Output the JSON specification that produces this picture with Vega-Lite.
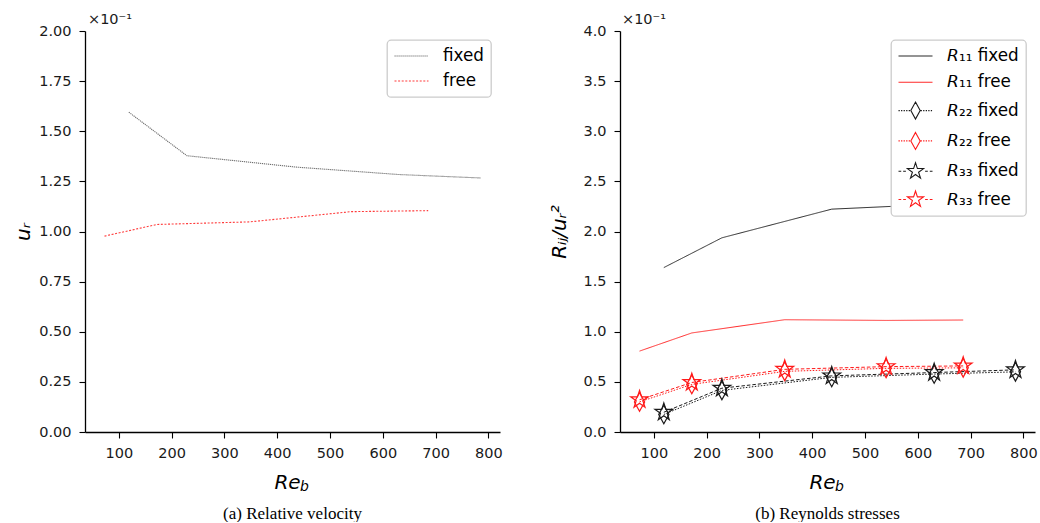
{
  "$schema": "https://vega.github.io/schema/vega-lite/v6.json",
  "background": "white",
  "padding": {"left": 13, "top": 12, "right": 0, "bottom": 0},
  "spacing": 46,
  "resolve": {
    "scale": {"color": "independent", "shape": "independent", "strokeDash": "independent"},
    "legend": {"color": "independent", "shape": "independent", "strokeDash": "independent"}
  },
  "datasets": {
    "ur": [
      {"series": "fixed", "Re": 119, "u": 1.595},
      {"series": "fixed", "Re": 229, "u": 1.378},
      {"series": "fixed", "Re": 437, "u": 1.321},
      {"series": "fixed", "Re": 631, "u": 1.284},
      {"series": "fixed", "Re": 785, "u": 1.267},
      {"series": "free", "Re": 73, "u": 0.977},
      {"series": "free", "Re": 172, "u": 1.035},
      {"series": "free", "Re": 348, "u": 1.048},
      {"series": "free", "Re": 540, "u": 1.099},
      {"series": "free", "Re": 686, "u": 1.104}
    ],
    "rs": [
      {"series": "𝘙₁₁ fixed", "comp": "R11", "Re": 119, "v": 1.64},
      {"series": "𝘙₁₁ fixed", "comp": "R11", "Re": 229, "v": 1.937},
      {"series": "𝘙₁₁ fixed", "comp": "R11", "Re": 437, "v": 2.223},
      {"series": "𝘙₁₁ fixed", "comp": "R11", "Re": 631, "v": 2.27},
      {"series": "𝘙₁₁ fixed", "comp": "R11", "Re": 785, "v": 2.292},
      {"series": "𝘙₁₁ free", "comp": "R11", "Re": 73, "v": 0.807},
      {"series": "𝘙₁₁ free", "comp": "R11", "Re": 172, "v": 0.988},
      {"series": "𝘙₁₁ free", "comp": "R11", "Re": 348, "v": 1.12},
      {"series": "𝘙₁₁ free", "comp": "R11", "Re": 540, "v": 1.113},
      {"series": "𝘙₁₁ free", "comp": "R11", "Re": 686, "v": 1.117},
      {"series": "𝘙₂₂ fixed", "comp": "R22", "Re": 119, "v": 0.175},
      {"series": "𝘙₂₂ fixed", "comp": "R22", "Re": 229, "v": 0.415},
      {"series": "𝘙₂₂ fixed", "comp": "R22", "Re": 437, "v": 0.545},
      {"series": "𝘙₂₂ fixed", "comp": "R22", "Re": 631, "v": 0.578},
      {"series": "𝘙₂₂ fixed", "comp": "R22", "Re": 785, "v": 0.6},
      {"series": "𝘙₂₂ free", "comp": "R22", "Re": 73, "v": 0.3},
      {"series": "𝘙₂₂ free", "comp": "R22", "Re": 172, "v": 0.475},
      {"series": "𝘙₂₂ free", "comp": "R22", "Re": 348, "v": 0.605},
      {"series": "𝘙₂₂ free", "comp": "R22", "Re": 540, "v": 0.635},
      {"series": "𝘙₂₂ free", "comp": "R22", "Re": 686, "v": 0.64},
      {"series": "𝘙₃₃ fixed", "comp": "R33", "Re": 119, "v": 0.197},
      {"series": "𝘙₃₃ fixed", "comp": "R33", "Re": 229, "v": 0.437},
      {"series": "𝘙₃₃ fixed", "comp": "R33", "Re": 437, "v": 0.56},
      {"series": "𝘙₃₃ fixed", "comp": "R33", "Re": 631, "v": 0.593},
      {"series": "𝘙₃₃ fixed", "comp": "R33", "Re": 785, "v": 0.62},
      {"series": "𝘙₃₃ free", "comp": "R33", "Re": 73, "v": 0.322},
      {"series": "𝘙₃₃ free", "comp": "R33", "Re": 172, "v": 0.494},
      {"series": "𝘙₃₃ free", "comp": "R33", "Re": 348, "v": 0.625},
      {"series": "𝘙₃₃ free", "comp": "R33", "Re": 540, "v": 0.652},
      {"series": "𝘙₃₃ free", "comp": "R33", "Re": 686, "v": 0.659}
    ]
  },
  "config": {
    "view": {"stroke": null},
    "font": "DejaVu Sans",
    "axis": {"grid": false, "domainColor": "black", "domainWidth": 1.3, "tickColor": "black", "tickWidth": 1.1, "tickSize": 6, "labelFont": "DejaVu Sans", "labelFontSize": 14.5, "labelColor": "#1a1a1a", "labelPadding": 8, "titleFont": "DejaVu Sans", "titleFontSize": 20, "titleFontStyle": "italic", "titleFontWeight": "normal", "titleColor": "black"},
    "axisX": {"titleX": 202, "titleY": 56, "titleBaseline": "alphabetic", "titleAlign": "center", "labelFlush": false},
    "axisY": {"titleBaseline": "alphabetic", "titleAlign": "center", "titleAngle": 270},
    "legend": {"orient": "top-right", "offset": 9, "padding": 6.5, "strokeColor": "#cccccc", "strokeWidth": 1.3, "cornerRadius": 4, "fillColor": "white", "labelFont": "DejaVu Sans", "labelFontSize": 16.8, "labelColor": "black", "symbolSize": 289, "symbolStrokeWidth": 1.1, "symbolOffset": 8.5, "labelOffset": 22, "labelLimit": 300},
    "title": {"font": "Liberation Serif", "fontSize": 17, "fontWeight": "normal", "color": "black", "orient": "bottom", "offset": 12, "frame": "group"}
  },
  "hconcat": [
    {
      "width": 415,
      "height": 401,
      "title": {"text": "(a) Relative velocity"},
      "layer": [
        {
          "data": {"name": "ur"},
          "mark": {"type": "line", "strokeWidth": 1.1},
          "encoding": {
            "x": {"field": "Re", "type": "quantitative", "scale": {"domain": [36, 822], "nice": false, "zero": false}, "axis": {"values": [100, 200, 300, 400, 500, 600, 700, 800], "format": "d", "title": "Re"}},
            "y": {"field": "u", "type": "quantitative", "scale": {"domain": [0, 2], "nice": false, "zero": false}, "axis": {"values": [0, 0.25, 0.5, 0.75, 1, 1.25, 1.5, 1.75, 2], "format": ".2f", "title": "uᵣ", "titleX": -56, "titleY": 200.5}},
            "color": {"field": "series", "type": "nominal", "legend": {"title": null, "rowPadding": 6}, "scale": {"domain": ["fixed", "free"], "range": ["#6e6e6e", "#ff3b3b"]}},
            "strokeDash": {"field": "series", "type": "nominal", "scale": {"domain": ["fixed", "free"], "range": [[1.2, 0.8], [2, 1.6]]}, "legend": null}
          }
        },
        {
          "data": {"name": "ur"},
          "transform": [{"filter": "false"}],
          "mark": {"type": "point", "filled": false, "opacity": 1},
          "encoding": {
            "x": {"field": "Re", "type": "quantitative"},
            "y": {"field": "u", "type": "quantitative"},
            "color": {"field": "series", "type": "nominal", "legend": {"title": null, "rowPadding": 6}},
            "shape": {"field": "series", "type": "nominal", "legend": {"title": null, "rowPadding": 6}, "scale": {"domain": ["fixed", "free"], "range": ["M-2,0H2", "M-2,0H2"]}}
          }
        },
        {
          "data": {"values": [{}]},
          "mark": {"type": "text", "text": "×10⁻¹", "align": "left", "baseline": "middle", "dx": 3, "dy": -11, "fontSize": 14.5, "font": "DejaVu Sans", "color": "#1a1a1a"},
          "encoding": {"x": {"datum": 36}, "y": {"datum": 2}}
        },
        {
          "data": {"values": [{}]},
          "mark": {"type": "text", "text": "b", "align": "left", "baseline": "alphabetic", "dy": 59, "fontSize": 14, "fontStyle": "italic", "font": "DejaVu Sans", "color": "black"},
          "encoding": {"x": {"datum": 443}, "y": {"datum": 0}}
        }
      ]
    },
    {
      "width": 415,
      "height": 401,
      "title": {"text": "(b) Reynolds stresses"},
      "layer": [
        {
          "data": {"name": "rs"},
          "mark": {"type": "line", "strokeWidth": 1},
          "encoding": {
            "x": {"field": "Re", "type": "quantitative", "scale": {"domain": [36, 822], "nice": false, "zero": false}, "axis": {"values": [100, 200, 300, 400, 500, 600, 700, 800], "format": "d", "title": "Re"}},
            "y": {"field": "v", "type": "quantitative", "scale": {"domain": [0, 4], "nice": false, "zero": false}, "axis": {"values": [0, 0.5, 1, 1.5, 2, 2.5, 3, 3.5, 4], "format": ".1f", "title": "Rᵢⱼ/uᵣ²", "titleX": -55, "titleY": 200.5}},
            "detail": {"field": "series", "type": "nominal"},
            "color": {"field": "series", "type": "nominal", "legend": {"title": null, "rowPadding": 7.3}, "scale": {"domain": ["𝘙₁₁ fixed", "𝘙₁₁ free", "𝘙₂₂ fixed", "𝘙₂₂ free", "𝘙₃₃ fixed", "𝘙₃₃ free"], "range": ["#2b2b2b", "#ff2a2a", "#1a1a1a", "#ff1a1a", "#1a1a1a", "#ff1a1a"]}},
            "strokeDash": {"field": "comp", "type": "nominal", "scale": {"domain": ["R11", "R22", "R33"], "range": [[1, 0], [1.5, 1.5], [3.5, 2]]}, "legend": null}
          }
        },
        {
          "data": {"name": "rs"},
          "transform": [{"filter": "datum.comp === 'R22'"}],
          "mark": {"type": "point", "filled": false, "opacity": 1, "strokeWidth": 1.2, "size": 346, "shape": "M0,-1L0.55,0L0,1L-0.55,0Z"},
          "encoding": {
            "x": {"field": "Re", "type": "quantitative"},
            "y": {"field": "v", "type": "quantitative"},
            "color": {"field": "series", "type": "nominal", "legend": {"title": null, "rowPadding": 7.3}}
          }
        },
        {
          "data": {"name": "rs"},
          "transform": [{"filter": "datum.comp === 'R33'"}],
          "mark": {"type": "point", "filled": false, "opacity": 1, "strokeWidth": 1.2, "size": 346, "shape": "M0,-1L0.2245,-0.309L0.951,-0.309L0.363,0.118L0.588,0.809L0,0.382L-0.588,0.809L-0.363,0.118L-0.951,-0.309L-0.2245,-0.309Z"},
          "encoding": {
            "x": {"field": "Re", "type": "quantitative"},
            "y": {"field": "v", "type": "quantitative"},
            "color": {"field": "series", "type": "nominal", "legend": {"title": null, "rowPadding": 7.3}}
          }
        },
        {
          "data": {"name": "rs"},
          "transform": [{"filter": "false"}],
          "mark": {"type": "point", "filled": false, "opacity": 1},
          "encoding": {
            "x": {"field": "Re", "type": "quantitative"},
            "y": {"field": "v", "type": "quantitative"},
            "color": {"field": "series", "type": "nominal", "legend": {"title": null, "rowPadding": 7.3}},
            "shape": {"field": "series", "type": "nominal", "legend": {"title": null, "rowPadding": 7.3}, "scale": {"domain": ["𝘙₁₁ fixed", "𝘙₁₁ free", "𝘙₂₂ fixed", "𝘙₂₂ free", "𝘙₃₃ fixed", "𝘙₃₃ free"], "range": [
              "M-2,0H2",
              "M-2,0H2",
              "M-2,0h0.15M-1.7,0h0.15M-1.4,0h0.15M-1.1,0h0.15M-0.8,0h0.15M0.6,0h0.15M0.9,0h0.15M1.2,0h0.15M1.5,0h0.15M1.8,0h0.15M0,-1L0.55,0L0,1L-0.55,0Z",
              "M-2,0h0.15M-1.7,0h0.15M-1.4,0h0.15M-1.1,0h0.15M-0.8,0h0.15M0.6,0h0.15M0.9,0h0.15M1.2,0h0.15M1.5,0h0.15M1.8,0h0.15M0,-1L0.55,0L0,1L-0.55,0Z",
              "M-2,0h0.32M-1.45,0h0.32M1.13,0h0.32M1.68,0h0.32M0,-1L0.2245,-0.309L0.951,-0.309L0.363,0.118L0.588,0.809L0,0.382L-0.588,0.809L-0.363,0.118L-0.951,-0.309L-0.2245,-0.309Z",
              "M-2,0h0.32M-1.45,0h0.32M1.13,0h0.32M1.68,0h0.32M0,-1L0.2245,-0.309L0.951,-0.309L0.363,0.118L0.588,0.809L0,0.382L-0.588,0.809L-0.363,0.118L-0.951,-0.309L-0.2245,-0.309Z"
            ]}}
          }
        },
        {
          "data": {"values": [{}]},
          "mark": {"type": "text", "text": "×10⁻¹", "align": "left", "baseline": "middle", "dx": 2, "dy": -11, "fontSize": 14.5, "font": "DejaVu Sans", "color": "#1a1a1a"},
          "encoding": {"x": {"datum": 36}, "y": {"datum": 4}}
        },
        {
          "data": {"values": [{}]},
          "mark": {"type": "text", "text": "b", "align": "left", "baseline": "alphabetic", "dy": 59, "fontSize": 14, "fontStyle": "italic", "font": "DejaVu Sans", "color": "black"},
          "encoding": {"x": {"datum": 443}, "y": {"datum": 0}}
        }
      ]
    }
  ]
}
